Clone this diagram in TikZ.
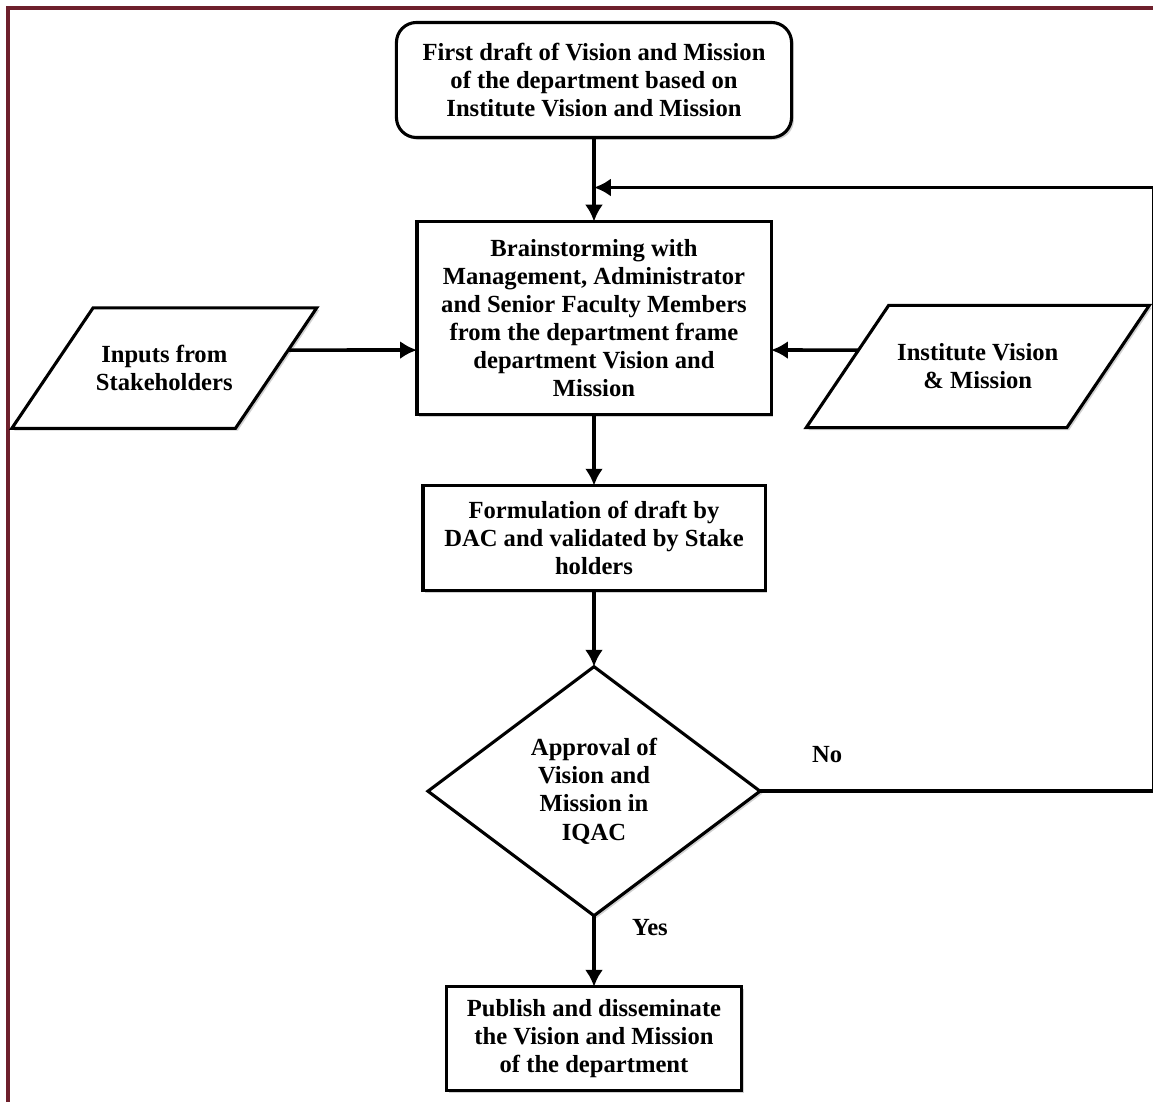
\documentclass[tikz,border=0pt]{standalone}
\usepackage{fontspec}
\setmainfont{Liberation Serif}
\usepackage{tikz}
\usetikzlibrary{shadows}
\usetikzlibrary{arrows.meta}
\usetikzlibrary{shapes.geometric}
\usetikzlibrary{positioning}
\usetikzlibrary{calc}
\definecolor{framered}{RGB}{110,32,44}
\tikzset{
  % Arrow tips for all connectors
  >={Latex[length=0.42cm,width=0.45cm]},
  line/.style={draw, ->, line width=2.6pt},
  boxshadow/.style={drop shadow={shadow xshift=0.06cm, shadow yshift=-0.06cm, fill=black!45, opacity=0.4}}
}

\begin{document}
\begin{tikzpicture}[x=0.025cm, y=-0.025cm, outer sep=0pt, font=\fontsize{17.5}{20}\selectfont\bfseries]
    % Define styles
    \tikzstyle{block} = [rectangle, draw, fill=white, line width=2.2pt, align=center, inner sep=2pt, boxshadow]
    \tikzstyle{startblock} = [block, rounded corners=0.5cm, minimum width=9.875cm, minimum height=2.875cm]
    \tikzstyle{io} = [trapezium, trapezium left angle=56, trapezium right angle=124, trapezium stretches body=true, draw, fill=white, line width=2.2pt, align=center, inner xsep=2pt, boxshadow]
    \tikzstyle{decision} = [diamond, draw, fill=white, line width=2.2pt, align=center, inner sep=0pt, minimum width=8.3cm, minimum height=6.225cm, boxshadow]

    % Page and frame
    \path [use as bounding box, fill=white] (0,0) rectangle (1153,1102);
    \draw [framered, line width=2.4pt] (8,1110) -- (8,8) -- (1160,8);

    % Place nodes
    \node [startblock] (start) at (594,80) {First draft of Vision and Mission\\of the department based on\\Institute Vision and Mission};
    \node [block, below=2.1cm of start, minimum width=8.85cm, minimum height=4.825cm] (brain) {Brainstorming with\\Management, Administrator\\and Senior Faculty Members\\from the department frame\\department Vision and\\Mission};
    \node [io, left=3.52cm of brain, yshift=-1.25cm, minimum width=7.2cm, inner ysep=0.935cm] (inputs) {Inputs from\\Stakeholders};
    \node [io, right=1.91cm of brain, yshift=-1.21cm, minimum width=8.575cm, inner ysep=0.96cm] (institute) {Institute Vision\\\& Mission};
    \node [block, below=1.775cm of brain, minimum width=8.55cm, minimum height=2.625cm] (form) {Formulation of draft by\\DAC and validated by Stake\\holders};
    \node [decision, below=1.9cm of form] (decide) {Approval of\\Vision and\\Mission in\\IQAC};
    \node [block, below=1.775cm of decide, minimum width=7.375cm, minimum height=2.6cm] (publish) {Publish and disseminate\\the Vision and Mission\\of the department};

    % Helper points
    \coordinate (join) at ($(start.south)!0.595!(brain.north)$);
    \coordinate (inpin) at ([yshift=-0.8cm]brain.west);
    \coordinate (inpfar) at ([xshift=-6cm]inpin);
    \coordinate (inout) at ([yshift=-0.8cm]brain.east);
    \coordinate (inoutfar) at ([xshift=6cm]inout);

    % Draw edges
    \path [line] (start) -- (brain);
    \path [line] (intersection of inputs.top right corner--inputs.bottom right corner and inpin--inpfar) -- (inpin);
    \path [line] (intersection of institute.top left corner--institute.bottom left corner and inout--inoutfar) -- (inout);
    \path [line] (brain) -- (form);
    \path [line] (form) -- (decide);
    \path [line] (decide) -- node [pos=0.17, xshift=1.4cm] {Yes} (publish);
    \path [line] (decide.east) -- node [pos=0.17, yshift=0.925cm] {No} ++(9.85cm,0) |- (join);
\end{tikzpicture}
\end{document}
